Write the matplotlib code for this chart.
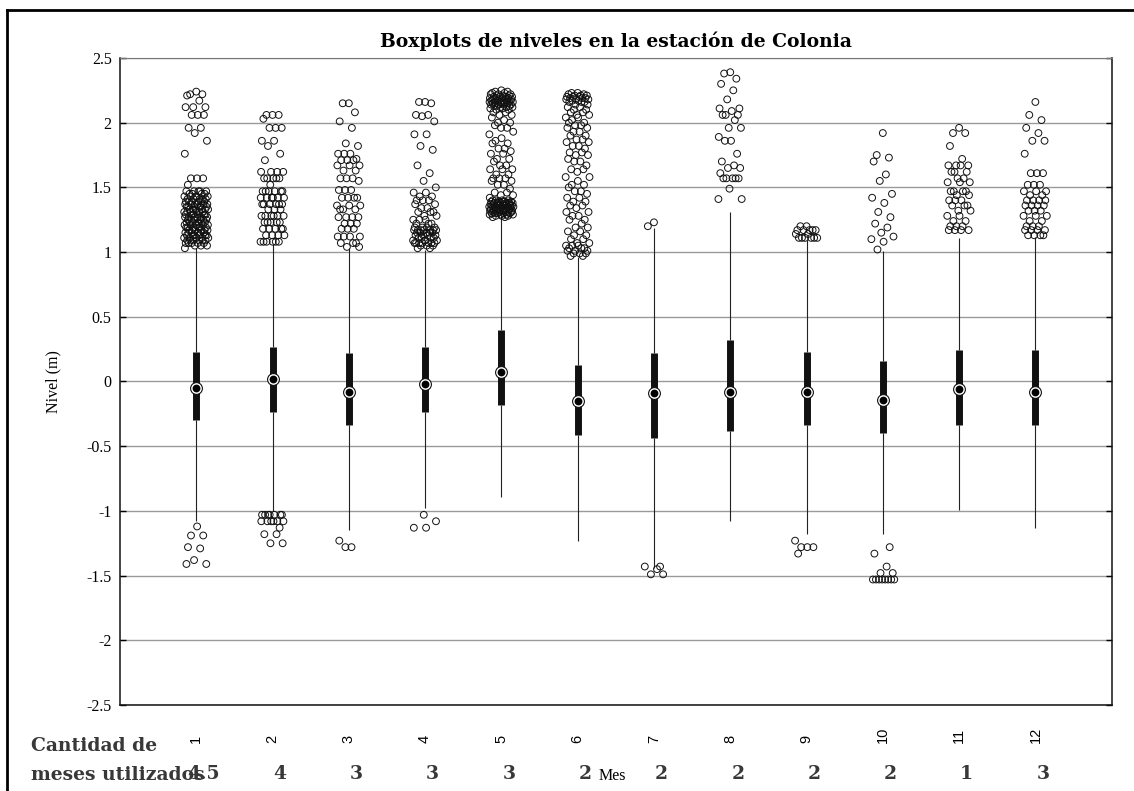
import matplotlib
matplotlib.use("Agg")
import matplotlib.pyplot as plt
import numpy as np
from matplotlib.lines import Line2D
from matplotlib.transforms import blended_transform_factory

plt.rcParams['font.family'] = ['Liberation Serif', 'DejaVu Serif']

# datos
meses = [1, 2, 3, 4, 5, 6, 7, 8, 9, 10, 11, 12]
mes_labels = ['1', '2', '3', '4', '5', '6', '7', '8', '9', '10', '11', '12']
cantidad = ['4.5', '4', '3', '3', '3', '2', '2', '2', '2', '2', '1', '3']

mediana = [-0.05, 0.02, -0.08, -0.02, 0.07, -0.15, -0.09, -0.08, -0.08, -0.14, -0.06, -0.08]
q1 = [-0.30, -0.235, -0.34, -0.235, -0.18, -0.415, -0.435, -0.38, -0.34, -0.40, -0.34, -0.34]
q3 = [0.23, 0.263, 0.22, 0.263, 0.395, 0.13, 0.22, 0.32, 0.23, 0.16, 0.24, 0.24]
bigote_inf = [-1.08, -1.0, -1.15, -0.98, -0.89, -1.23, -1.44, -1.08, -1.18, -1.18, -0.99, -1.13]
bigote_sup = [1.03, 1.06, 1.03, 1.02, 1.27, 0.96, 1.19, 1.31, 1.09, 1.01, 1.11, 1.12]

# atipicos: (nivel, cantidad de puntos)
atip_1 = [(2.24, 1), (2.22, 2), (2.21, 1), (2.17, 1), (2.12, 3), (2.06, 3), (1.96, 2), (1.92, 1),
          (1.86, 1), (1.76, 1), (1.57, 3), (1.52, 1), (1.47, 5), (1.45, 4), (1.43, 5), (1.41, 5),
          (1.39, 6), (1.37, 6), (1.35, 6), (1.33, 6), (1.31, 6), (1.29, 6), (1.27, 6), (1.25, 6),
          (1.23, 6), (1.21, 6), (1.19, 6), (1.17, 6), (1.15, 6), (1.13, 6), (1.11, 6), (1.09, 6),
          (1.07, 5), (1.05, 3), (1.03, 1),
          (-1.12, 1), (-1.19, 2), (-1.28, 1), (-1.29, 1), (-1.38, 1), (-1.41, 2)]
atip_2 = [(2.06, 3), (2.03, 1), (1.96, 3), (1.86, 2), (1.82, 1), (1.76, 1), (1.71, 1), (1.62, 4),
          (1.57, 5), (1.52, 1), (1.47, 6), (1.42, 6), (1.37, 6), (1.33, 3), (1.28, 6), (1.23, 5),
          (1.18, 5), (1.13, 4), (1.08, 6),
          (-1.03, 7), (-1.08, 6), (-1.13, 1), (-1.18, 2), (-1.25, 2)]
atip_3 = [(2.15, 2), (2.08, 1), (2.01, 1), (1.96, 1), (1.84, 1), (1.82, 1), (1.76, 3), (1.72, 1),
          (1.71, 3), (1.67, 3), (1.63, 2), (1.57, 3), (1.55, 1), (1.48, 3), (1.42, 4), (1.36, 3),
          (1.33, 3), (1.27, 4), (1.22, 3), (1.18, 3), (1.12, 4), (1.07, 3), (1.04, 2),
          (-1.23, 1), (-1.28, 2)]
atip_4 = [(2.16, 2), (2.15, 1), (2.06, 2), (2.05, 1), (2.01, 1), (1.91, 2), (1.82, 1), (1.79, 1),
          (1.67, 1), (1.61, 1), (1.55, 1), (1.50, 1), (1.46, 2), (1.43, 2), (1.40, 3), (1.37, 2),
          (1.34, 2), (1.31, 3), (1.28, 2), (1.25, 3), (1.22, 3), (1.19, 4), (1.17, 7), (1.15, 5),
          (1.13, 4), (1.11, 4), (1.09, 4), (1.07, 7), (1.05, 3), (1.03, 2),
          (-1.03, 1), (-1.08, 1), (-1.13, 2)]
atip_5 = [(2.25, 1), (2.24, 2), (2.23, 2), (2.22, 3), (2.21, 3), (2.20, 4), (2.19, 4), (2.18, 4),
          (2.17, 4), (2.16, 5), (2.15, 5), (2.14, 4), (2.13, 3), (2.12, 3), (2.11, 2), (2.10, 2),
          (2.08, 2), (2.06, 2), (2.04, 1), (2.02, 1), (2.00, 2), (1.98, 1), (1.96, 2), (1.93, 1),
          (1.91, 1), (1.88, 1), (1.86, 1), (1.84, 2), (1.80, 2), (1.78, 1), (1.76, 2), (1.72, 2),
          (1.70, 1), (1.67, 2), (1.64, 3), (1.60, 2), (1.57, 3), (1.55, 2), (1.52, 2), (1.49, 1),
          (1.46, 2), (1.44, 2), (1.42, 1), (1.40, 4), (1.39, 5), (1.38, 6), (1.37, 6), (1.36, 6),
          (1.35, 6), (1.34, 6), (1.33, 6), (1.32, 5), (1.31, 5), (1.30, 5), (1.29, 4), (1.28, 3),
          (1.27, 2)]
atip_6 = [(2.23, 2), (2.22, 2), (2.21, 3), (2.20, 3), (2.19, 3), (2.18, 3), (2.17, 2), (2.16, 3),
          (2.14, 2), (2.12, 2), (2.10, 2), (2.08, 2), (2.06, 2), (2.04, 2), (2.02, 1), (2.00, 2),
          (1.98, 2), (1.96, 2), (1.93, 2), (1.90, 2), (1.87, 2), (1.85, 2), (1.82, 2), (1.80, 1),
          (1.77, 2), (1.75, 2), (1.72, 1), (1.70, 2), (1.67, 1), (1.64, 2), (1.62, 1), (1.58, 2),
          (1.55, 1), (1.52, 2), (1.50, 1), (1.47, 2), (1.45, 1), (1.42, 2), (1.39, 2), (1.36, 2),
          (1.34, 1), (1.31, 2), (1.28, 2), (1.25, 2), (1.22, 1), (1.19, 2), (1.16, 2), (1.13, 2),
          (1.10, 2), (1.07, 2), (1.05, 3), (1.03, 3), (1.01, 3), (0.99, 3), (0.97, 2)]
atip_7 = [(1.23, 1), (1.20, 1),
          (-1.43, 2), (-1.45, 1), (-1.49, 2)]
atip_8 = [(2.39, 1), (2.38, 1), (2.34, 1), (2.30, 1), (2.25, 1), (2.18, 1), (2.11, 2), (2.09, 1),
          (2.06, 3), (2.02, 1), (1.96, 2), (1.89, 1), (1.86, 2), (1.76, 1), (1.70, 1), (1.67, 1),
          (1.65, 2), (1.61, 1), (1.57, 5), (1.49, 1), (1.41, 2)]
atip_9 = [(1.20, 2), (1.17, 5), (1.14, 2), (1.11, 6),
          (-1.23, 1), (-1.28, 3), (-1.33, 1)]
atip_10 = [(1.92, 1), (1.75, 1), (1.73, 1), (1.70, 1), (1.60, 1), (1.55, 1), (1.45, 1), (1.42, 1),
           (1.38, 1), (1.31, 1), (1.27, 1), (1.22, 1), (1.19, 1), (1.15, 1), (1.12, 1), (1.10, 1),
           (1.08, 1), (1.02, 1),
           (-1.28, 1), (-1.33, 1), (-1.43, 1), (-1.48, 2), (-1.53, 8)]
atip_11 = [(1.96, 1), (1.92, 2), (1.82, 1), (1.72, 1), (1.67, 4), (1.62, 3), (1.57, 2), (1.54, 3),
           (1.47, 4), (1.44, 2), (1.40, 3), (1.36, 3), (1.32, 2), (1.28, 2), (1.24, 2), (1.20, 3),
           (1.17, 4)]
atip_12 = [(2.16, 1), (2.06, 1), (2.02, 1), (1.96, 1), (1.92, 1), (1.86, 2), (1.76, 1), (1.61, 3),
           (1.52, 3), (1.47, 3), (1.44, 2), (1.40, 4), (1.36, 4), (1.32, 3), (1.28, 3), (1.24, 2),
           (1.20, 3), (1.17, 4), (1.13, 4)]
atipicos = [atip_1, atip_2, atip_3, atip_4, atip_5, atip_6,
            atip_7, atip_8, atip_9, atip_10, atip_11, atip_12]


def corput(n):
    # secuencia de van der Corput en base 2, para repartir el jitter
    out = np.zeros(n)
    for i in range(n):
        k, f, r = i + 1, 0.5, 0.0
        while k:
            r += f * (k & 1)
            k >>= 1
            f *= 0.5
        out[i] = r
    return out


fig = plt.figure(figsize=(11.34, 7.91), dpi=100)
ax = fig.add_axes([0.1058, 0.1087, 0.8745, 0.818])

# bigotes
ax.vlines(meses, bigote_inf, q1, color='#222222', lw=0.8, zorder=2)
ax.vlines(meses, q3, bigote_sup, color='#222222', lw=0.8, zorder=2)
# caja compacta
ax.vlines(meses, q1, q3, color='#111111', lw=5, zorder=3)
# mediana
ax.plot(meses, mediana, 'o', ms=8.5, mfc='white', mec='#111111', mew=0.8, zorder=4)
ax.plot(meses, mediana, 'o', ms=4.6, mfc='black', mec='black', zorder=5)

# atipicos con desplazamiento horizontal (jitter)
for m, lista in zip(meses, atipicos):
    ys = np.concatenate([[v] * n for v, n in lista])
    dx = (corput(len(ys)) - 0.5) * 0.32
    ax.scatter(m + dx, ys, s=24, facecolors='none', edgecolors='#111111',
               linewidths=0.7, zorder=6)

ax.set_xlim(0, 13)
ax.set_ylim(-2.5, 2.5)
ax.set_yticks(np.arange(-2.5, 2.51, 0.5))
ax.set_yticklabels(['-2.5', '-2', '-1.5', '-1', '-0.5', '0', '0.5', '1', '1.5', '2', '2.5'])
ax.set_xticks([])
ax.tick_params(axis='y', direction='in', length=4, width=1, right=True,
               labelsize=11.5, pad=6)
ax.yaxis.grid(True, color='#9a9a9a', lw=1)
ax.set_axisbelow(True)
for s in ['left', 'bottom', 'right']:
    ax.spines[s].set_color('#111111')
    ax.spines[s].set_linewidth(1.1)
ax.spines['top'].set_color('#777777')

ax.set_ylabel('Nivel (m)', fontsize=11.5, labelpad=18)
ax.set_title('Boxplots de niveles en la estación de Colonia', fontsize=13.5,
             fontweight='bold', family='DejaVu Serif', pad=8)

# etiquetas de meses, giradas
trans = blended_transform_factory(ax.transData, fig.transFigure)
for m, lab in zip(meses, mes_labels):
    ax.text(m, 1 - 743 / 791, lab, rotation=90, ha='center', va='bottom',
            fontsize=10.5, family='Liberation Sans', transform=trans)
for m, c in zip(meses, cantidad):
    ax.text(m + 0.1, 1 - 774 / 791, c, ha='center', va='center', family='DejaVu Serif',
            fontsize=13.5, fontweight='bold', color='#383838', transform=trans)
fig.text(612 / 1134, 1 - 776 / 791, 'Mes', ha='center', va='center', fontsize=11.5)
fig.text(31 / 1134, 1 - 746 / 791, 'Cantidad de', ha='left', va='center',
         fontsize=13.5, fontweight='bold', family='DejaVu Serif', color='#383838')
fig.text(31 / 1134, 1 - 775 / 791, 'meses utilizados', ha='left', va='center',
         fontsize=13.5, fontweight='bold', family='DejaVu Serif', color='#383838')

# marco exterior
fig.add_artist(Line2D([7 / 1134, 7 / 1134], [0, 1 - 10 / 791], transform=fig.transFigure,
                      color='black', lw=2))
fig.add_artist(Line2D([7 / 1134, 1], [1 - 10 / 791, 1 - 10 / 791], transform=fig.transFigure,
                      color='black', lw=2))

fig.savefig('out.png', dpi=100)
